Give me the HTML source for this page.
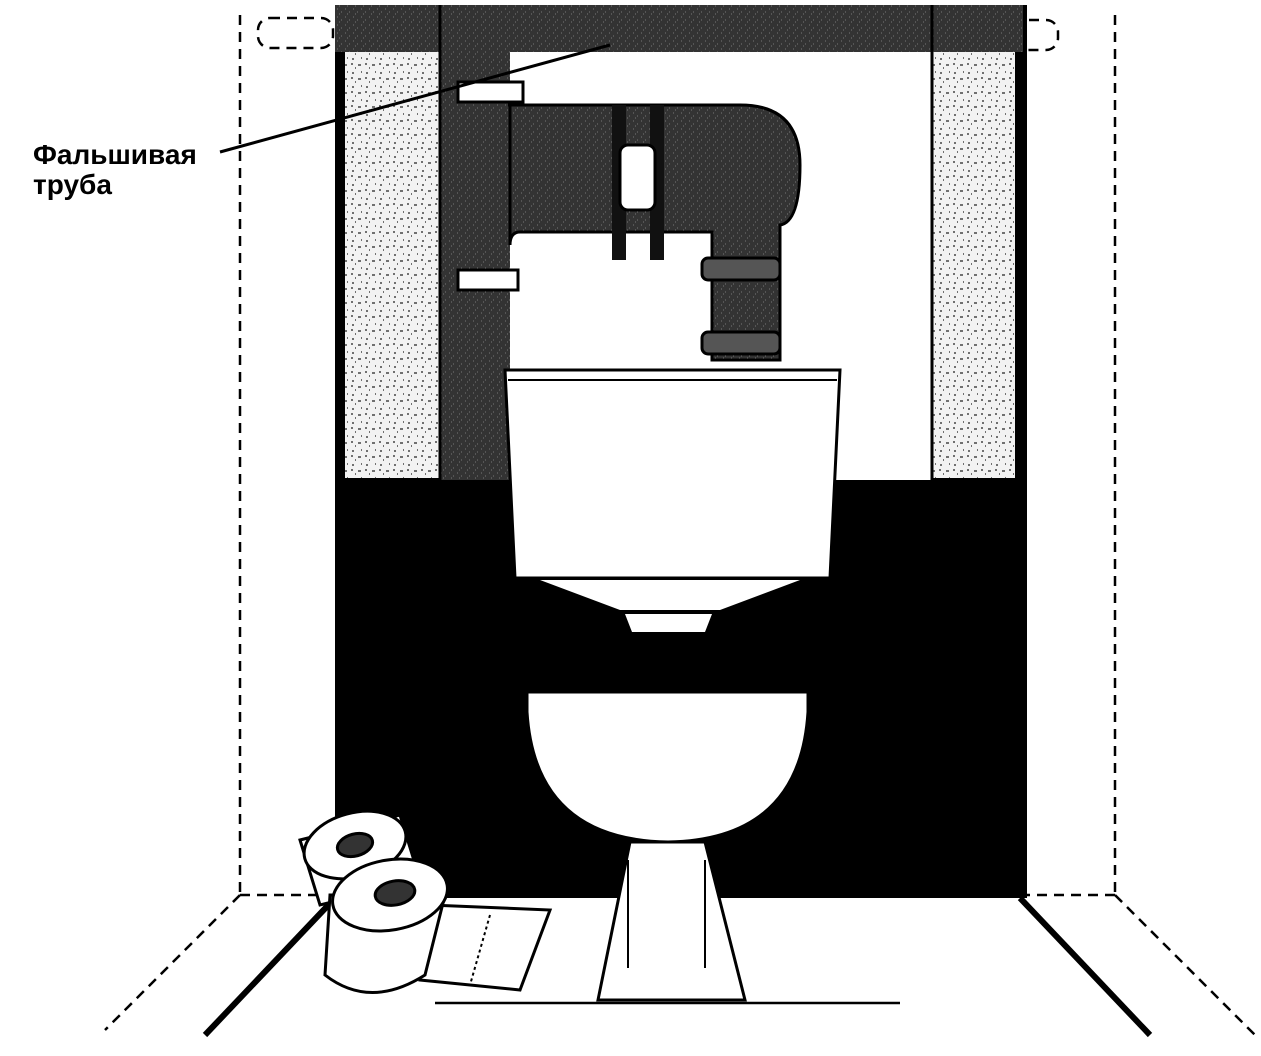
<!DOCTYPE html>
<html><head><meta charset="utf-8"><style>
html,body{margin:0;padding:0;background:#fff;}
svg{display:block;}
text{font-family:"Liberation Sans",sans-serif;}
</style></head><body>
<svg width="1261" height="1056" viewBox="0 0 1261 1056" xmlns="http://www.w3.org/2000/svg">
<defs>
<pattern id="tex" width="14" height="14" patternUnits="userSpaceOnUse">
<rect width="14" height="14" fill="#f2f2f2"/>
<path d="M2 3h2M8 9h3M5 12h1M11 2h1M1 8h2" stroke="#444" stroke-width="1.5"/>
</pattern>
<pattern id="dk" width="8" height="8" patternUnits="userSpaceOnUse">
<rect width="8" height="8" fill="#333"/>
<path d="M1 1h1M5 4h1M3 6h1" stroke="#777" stroke-width="1"/>
</pattern>
</defs>
<g stroke="#000" stroke-width="2.5" stroke-dasharray="10,7" fill="none">
<line x1="240" y1="15" x2="240" y2="893"/>
<line x1="1115" y1="15" x2="1115" y2="893"/>
<line x1="240" y1="895" x2="335" y2="895"/>
<line x1="1020" y1="895" x2="1115" y2="895"/>
<line x1="240" y1="895" x2="105" y2="1030"/>
<line x1="1115" y1="895" x2="1255" y2="1035"/>
<rect x="258" y="18" width="75" height="30" rx="12"/>
<rect x="1000" y="20" width="58" height="30" rx="12"/>
</g>
<rect x="335" y="5" width="690" height="893" fill="#000"/>
<rect x="440" y="5" width="492" height="475" fill="#fff"/>
<rect x="345" y="50" width="95" height="428" fill="url(#tex)"/>
<rect x="932" y="50" width="83" height="428" fill="url(#tex)"/>
<rect x="335" y="5" width="690" height="47" fill="url(#dk)"/>
<rect x="440" y="50" width="70" height="430" fill="url(#dk)"/>
<line x1="440" y1="5" x2="440" y2="480" stroke="#000" stroke-width="3"/>
<line x1="932" y1="5" x2="932" y2="480" stroke="#000" stroke-width="3"/>
<rect x="458" y="82" width="65" height="20" fill="#fff" stroke="#000" stroke-width="3"/>
<rect x="458" y="270" width="60" height="20" fill="#fff" stroke="#000" stroke-width="3"/>
<path d="M508 105 L740 105 Q800 105 800 165 Q800 222 780 225 L780 360 L712 360 L712 232 L520 232 Q510 232 510 245 L510 105 Z" fill="url(#dk)" stroke="#000" stroke-width="3"/>
<rect x="612" y="105" width="14" height="155" fill="#111"/>
<rect x="650" y="105" width="14" height="155" fill="#111"/>
<rect x="620" y="145" width="35" height="65" rx="8" fill="#fff" stroke="#000" stroke-width="3"/>
<rect x="702" y="258" width="78" height="22" rx="6" fill="#555" stroke="#000" stroke-width="3"/>
<rect x="702" y="332" width="78" height="22" rx="6" fill="#555" stroke="#000" stroke-width="3"/>
<path d="M505 370 L840 370 L830 578 L515 578 Z" fill="#fff" stroke="#000" stroke-width="3"/>
<line x1="508" y1="380" x2="837" y2="380" stroke="#000" stroke-width="2"/>
<path d="M540 580 L800 580 L720 610 L620 610 Z" fill="#fff"/>
<path d="M625 614 L712 614 L705 632 L632 632 Z" fill="#fff"/>
<rect x="335" y="898" width="690" height="160" fill="#fff"/>
<line x1="335" y1="898" x2="205" y2="1035" stroke="#000" stroke-width="6"/>
<line x1="1020" y1="898" x2="1150" y2="1035" stroke="#000" stroke-width="6"/>
<line x1="1025" y1="5" x2="1025" y2="898" stroke="#000" stroke-width="4"/>
<line x1="435" y1="1003" x2="900" y2="1003" stroke="#000" stroke-width="2.5"/>
<path d="M630 842 L705 842 L745 1000 L598 1000 Z" fill="#fff" stroke="#000" stroke-width="3"/>
<line x1="628" y1="860" x2="628" y2="968" stroke="#000" stroke-width="2"/>
<line x1="705" y1="860" x2="705" y2="968" stroke="#000" stroke-width="2"/>
<path d="M527 692 L808 692 L808 712 Q800 840 668 842 Q535 840 527 712 Z" fill="#fff" stroke="#000" stroke-width="3"/>
<g stroke="#000" stroke-width="3" fill="#fff">
<path d="M300 840 L320 905 L420 880 L400 815 Z"/>
<ellipse cx="355" cy="845" rx="52" ry="32" transform="rotate(-15 355 845)"/>
<ellipse cx="355" cy="845" rx="18" ry="11" fill="#333" transform="rotate(-15 355 845)"/>
<path d="M430 905 L550 910 L520 990 L420 980 Z"/>
<path d="M330 895 L325 975 Q370 1010 425 975 L445 895 Z"/>
<ellipse cx="390" cy="895" rx="58" ry="35" transform="rotate(-10 390 895)"/>
<ellipse cx="395" cy="893" rx="20" ry="12" fill="#333" transform="rotate(-10 395 893)"/>
</g>
<line x1="490" y1="915" x2="470" y2="985" stroke="#000" stroke-width="2" stroke-dasharray="3,3"/>
<line x1="220" y1="152" x2="610" y2="45" stroke="#000" stroke-width="3"/>
<text x="33" y="164" font-size="28" font-weight="bold">Фальшивая</text>
<text x="33" y="194" font-size="28" font-weight="bold">труба</text>
</svg>
</body></html>
